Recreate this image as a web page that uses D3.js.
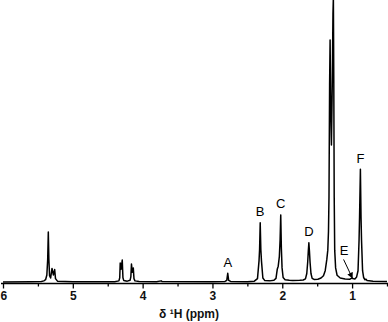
<!DOCTYPE html>
<html>
<head>
<meta charset="utf-8">
<script src="https://cdn.jsdelivr.net/npm/d3@7"></script>
<style>
  body { margin: 0; background: #fff; }
  svg { display: block; }
  text { font-family: "Liberation Sans", Arial, sans-serif; }
</style>
</head>
<body>
<div id="chart-area"></div>
<script>
// chemical shift (ppm) and intensity (relative, 100 = top of frame)
const shiftPpm = [
    6.00, 5.60, 5.45, 5.415, 5.39, 5.372, 5.360, 5.351, 5.343, 5.333, 5.318,
    5.298, 5.279, 5.260, 5.248, 5.22, 5.00,
    4.40, 4.34, 4.328, 4.321, 4.310, 4.292, 4.282, 4.27, 4.22,
    4.18, 4.169, 4.160, 4.148, 4.134, 4.124, 4.11, 4.05,
    3.80, 3.735, 3.72, 3.00,
    2.82, 2.795, 2.781, 2.768, 2.74, 2.50,
    2.40, 2.355, 2.333, 2.325, 2.316, 2.307, 2.298, 2.278, 2.25, 2.18,
    2.12, 2.09, 2.072, 2.058, 2.042, 2.031, 2.022, 2.013, 2.003, 1.988, 1.96,
    1.90, 1.85, 1.75, 1.70,
    1.668, 1.649, 1.636, 1.627, 1.619, 1.611, 1.602, 1.589, 1.572, 1.545,
    1.49, 1.445, 1.41, 1.385, 1.362, 1.348, 1.338, 1.331, 1.322, 1.315,
    1.306, 1.296, 1.284, 1.274, 1.268, 1.262, 1.256, 1.249, 1.236, 1.215,
    1.17, 1.10, 1.03, 1.005, 0.99, 0.96,
    0.935, 0.915, 0.900, 0.893, 0.881, 0.872, 0.865, 0.850, 0.835, 0.815,
    0.80, 0.785, 0.70, 0.50
];
const intensity = [
    0, 0.1, 0.2, 0.4, 0.8, 2.5, 8, 17.7, 8, 2.2, 1.4,
    4.8, 2.5, 4.4, 1.2, 0.3, 0.1,
    0.1, 0.4, 1.5, 6.7, 4.5, 7.8, 1.5, 0.5, 0.3,
    0.6, 1.8, 6.4, 3.5, 5.0, 1.2, 0.4, 0.2,
    0.1, 0.4, 0.15, 0.1,
    0.2, 0.6, 3.1, 0.6, 0.2, 0.1,
    0.3, 1.2, 7.5, 11.5, 21.0, 11.5, 7.5, 1.4, 0.5, 0.4,
    0.6, 1.3, 4.5, 5.6, 9, 15, 23.8, 12, 5, 1.6, 0.8,
    0.6, 0.5, 0.6, 0.7,
    1.1, 3, 7, 11, 13.9, 11, 7, 3, 1.3, 0.9,
    1.0, 1.4, 2.2, 4, 8, 11.3, 18, 30, 70, 85.8,
    60, 48.6, 70, 95, 101, 70, 30, 11.3, 5, 2.4,
    1.4, 1.1, 1.0, 1.4, 1.2, 1.1,
    1.8, 4, 15, 23, 40, 23, 15, 4, 1.6, 0.8,
    1.0, 0.5, 0.3, 0.2
];

// peak letters and where they sit
const peakNames = ["A", "B", "C", "D", "F"];
const peakPpm = [2.781, 2.316, 2.022, 1.619, 0.881];

// label E with its arrow (ppm, intensity)
const eLabel = {name: "E", ppm: 1.115, value: 9.5};
const eArrow = {fromPpm: 1.122, fromValue: 8.0, toPpm: 0.996, toValue: 1.4};

const majorTicks = [6, 5, 4, 3, 2, 1];
const minorTicks = [5.5, 4.5, 3.5, 2.5, 1.5, 0.5];

const width = 388;
const height = 322;
const baseY = 282;
const axisY = 283.5;

const svg = d3.select("#chart-area")
    .append("svg")
    .attr("width", width)
    .attr("height", height);

svg.append("defs").append("marker")
    .attr("id", "arrow")
    .attr("viewBox", "0 0 10 10")
    .attr("refX", 9)
    .attr("refY", 5)
    .attr("markerWidth", 6)
    .attr("markerHeight", 6)
    .attr("markerUnits", "userSpaceOnUse")
    .attr("orient", "auto")
    .append("path")
    .attr("d", "M0,0 L10,5 L0,10 z")
    .attr("fill", "black");

svg.append("clipPath")
    .attr("id", "plot-clip")
    .append("rect")
    .attr("x", 0).attr("y", 0)
    .attr("width", width).attr("height", axisY);

// x scale runs high to low, as NMR does
const x = d3.scaleLinear()
    .domain([6, 0.5])
    .range([3, 387]);

const y = d3.scaleLinear()
    .domain([0, 100])
    .range([baseY, 0]);

const points = shiftPpm.map((p, i) => [p, intensity[i]]);

const line = d3.line()
    .x(d => x(d[0]))
    .y(d => y(d[1]));

svg.append("path")
    .datum(points)
    .attr("clip-path", "url(#plot-clip)")
    .attr("d", line)
    .attr("fill", "none")
    .attr("stroke", "black")
    .attr("stroke-width", 1.5)
    .attr("stroke-linejoin", "round");

// Axis
const bottomAxis = d3.axisBottom(x)
    .tickValues(majorTicks)
    .tickFormat(d3.format("d"))
    .tickSize(5)
    .tickSizeOuter(0)
    .tickPadding(3);

const xAxisGroup = svg.append("g")
    .attr("class", "x-axis")
    .attr("transform", "translate(0," + axisY + ")")
    .call(bottomAxis);

xAxisGroup.select(".domain")
    .attr("d", "M1,0H388")
    .attr("stroke-width", 1.3);

xAxisGroup.selectAll(".tick line")
    .attr("stroke-width", 1.3);

xAxisGroup.selectAll(".tick text")
    .attr("font-size", "12px")
    .attr("font-family", "Liberation Sans, Arial, sans-serif")
    .attr("font-weight", "bold")
    .attr("fill", "#111");

xAxisGroup.selectAll(".tick")
    .filter(d => d === 6)
    .select("text")
    .attr("text-anchor", "start")
    .attr("x", -3);

const minorAxis = d3.axisBottom(x)
    .tickValues(minorTicks)
    .tickFormat("")
    .tickSize(3)
    .tickSizeOuter(0);

const minorGroup = svg.append("g")
    .attr("transform", "translate(0," + axisY + ")")
    .call(minorAxis);

minorGroup.select(".domain").remove();
minorGroup.selectAll(".tick line").attr("stroke-width", 1.3);

// Axis label
svg.append("text")
    .attr("x", 189)
    .attr("y", 318)
    .attr("text-anchor", "middle")
    .attr("font-size", "12px")
    .attr("font-weight", "bold")
    .attr("fill", "#111")
    .text("δ ¹H (ppm)");

// Peak letters
function peakTop(p) {
    let best = 0;
    shiftPpm.forEach((s, i) => {
        if (Math.abs(s - p) < 0.02) best = Math.max(best, intensity[i]);
    });
    return best;
}

svg.selectAll(".peak-label")
    .data(peakNames)
    .enter().append("text")
    .attr("class", "peak-label")
    .attr("x", (d, i) => x(peakPpm[i]))
    .attr("y", (d, i) => y(peakTop(peakPpm[i])) - 6.5)
    .attr("text-anchor", "middle")
    .attr("font-size", "13px")
    .text(d => d);

svg.append("text")
    .attr("x", x(eLabel.ppm))
    .attr("y", y(eLabel.value))
    .attr("text-anchor", "middle")
    .attr("font-size", "13px")
    .text(eLabel.name);

svg.append("line")
    .attr("x1", x(eArrow.fromPpm))
    .attr("y1", y(eArrow.fromValue))
    .attr("x2", x(eArrow.toPpm))
    .attr("y2", y(eArrow.toValue))
    .attr("stroke", "black")
    .attr("stroke-width", 1)
    .attr("marker-end", "url(#arrow)");
</script>
</body>
</html>
